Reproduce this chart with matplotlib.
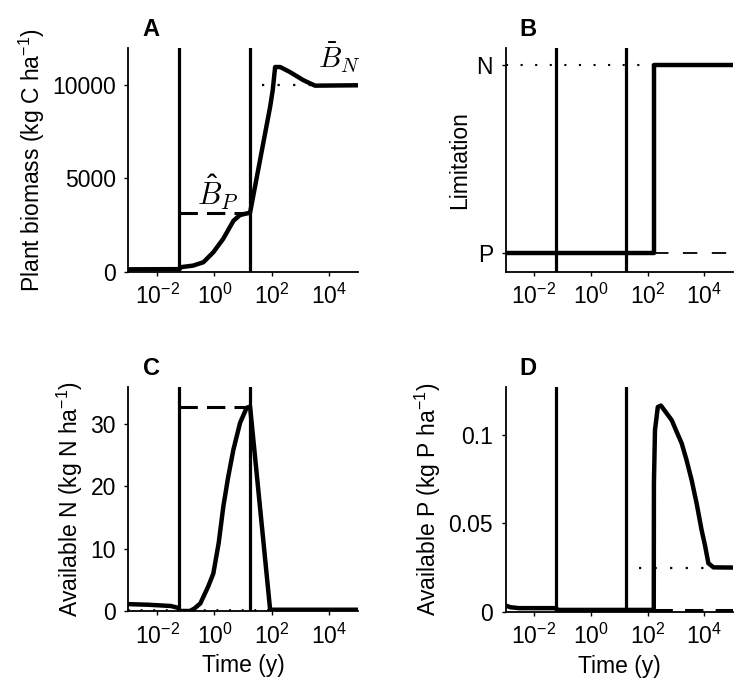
import numpy as np
import matplotlib
matplotlib.use("Agg")
import matplotlib.pyplot as plt
from matplotlib.ticker import FixedLocator, FixedFormatter, NullLocator

plt.rcParams['font.family'] = ['Liberation Sans', 'DejaVu Sans']
plt.rcParams['mathtext.fontset'] = 'custom'
plt.rcParams['mathtext.rm'] = 'Liberation Sans'
plt.rcParams['mathtext.default'] = 'regular'

# time of the two disturbance lines and the N->P switch (y)
t_marks = [0.06, 17.4]
t_switch = 165

# panel A: plant biomass
tA = [1e-3, 0.06, 0.063, 0.18, 0.41, 0.91, 2.0, 4.6, 7.8, 17.4, 87, 107, 130, 195, 427, 1260, 3200, 1e5]
biomass = [120, 130, 230, 320, 500, 1035, 1750, 2730, 3036, 3160, 8840, 9730, 10980, 10980, 10710, 10270, 9980, 10000]
B_P = 3160
B_N = 10000

# panel B: limitation (0 = P, 1 = N)
tB = [1e-3, t_switch, t_switch, 1e5]
limit = [0, 0, 1, 1]

# panel C: available N
tC = [1e-3, 0.005, 0.03, 0.055, 0.06, 0.14, 0.2, 0.32, 0.6, 0.91, 1.4, 2.04, 3.0, 4.57, 7.8, 13.2, 17.4, 87, 1e5]
availN = [1.1, 1.0, 0.8, 0.5, 0.0, 0.0, 0.4, 1.2, 3.9, 6.0, 10.9, 16.8, 21.5, 25.9, 30.2, 32.6, 32.8, 0.2, 0.2]
N_hat = 32.8
N_bar = 0.2

# panel D: available P
tD = [1e-3, 1.5e-3, 3e-3, 0.06, 0.065, 165, 167, 182, 229, 295, 708, 1050, 1585, 2340, 3548,
      5370, 7943, 10500, 13800, 20900, 1e5]
availP = [0.0035, 0.0025, 0.002, 0.002, 0.001, 0.001, 0.0727, 0.1029, 0.116, 0.1168, 0.1085, 0.102,
          0.0954, 0.086, 0.0746, 0.061, 0.0463, 0.0375, 0.0274, 0.0251, 0.025]
P_bar = 0.025
P_hat = 0.0008

xticks = [1e-2, 1e0, 1e2, 1e4]
xticklabels = [r'$10^{-2}$', r'$10^{0}$', r'$10^{2}$', r'$10^{4}$']

fs = 16.5
fig = plt.figure(figsize=(7.38, 6.91), dpi=100)
axA = fig.add_axes([0.174, 0.607, 0.311, 0.3235])
axB = fig.add_axes([0.685, 0.607, 0.308, 0.3235])
axC = fig.add_axes([0.174, 0.1158, 0.311, 0.3246])
axD = fig.add_axes([0.685, 0.1148, 0.308, 0.3256])

for ax in [axA, axB, axC, axD]:
    ax.set_xscale('log')
    ax.set_xlim(1e-3, 1e5)
    ax.xaxis.set_major_locator(FixedLocator(xticks))
    ax.xaxis.set_major_formatter(FixedFormatter(xticklabels))
    ax.xaxis.set_minor_locator(NullLocator())
    ax.spines['top'].set_visible(False)
    ax.spines['right'].set_visible(False)
    for s in ['left', 'bottom']:
        ax.spines[s].set_linewidth(1.3)
    ax.tick_params(direction='out', length=3, width=1, labelsize=fs, pad=6)
    for t in t_marks:
        ax.axvline(t, color='black', lw=2.3, zorder=3)

# A
axA.plot(tA, biomass, color='black', lw=3.2, zorder=4)
axA.plot([t_marks[0], t_marks[1]], [B_P, B_P], color='black', lw=2.2, dashes=(6, 3))
axA.plot([45, 3200], [B_N, B_N], color='black', lw=1.6, dashes=(1, 6))
axA.set_ylim(0, 12000)
axA.set_yticks([0, 5000, 10000])
axA.set_ylabel('Plant biomass (kg C ha$^{-1}$)', fontsize=fs)
axA.text(1.25, 4250, r'$\hat{\mathit{B}}_{\mathit{P}}$', fontsize=22, math_fontfamily='cm',
         ha='center', va='center')
axA.text(22000, 11500, r'$\bar{\mathit{B}}_{\mathit{N}}$', fontsize=21, math_fontfamily='cm',
         ha='center', va='center', clip_on=False)

# B
axB.plot(tB, limit, color='black', lw=3.2, zorder=4)
axB.plot([1e-3, t_switch], [1, 1], color='black', lw=1.5, dashes=(1, 6))
axB.plot([t_switch, 1e5], [0, 0], color='black', lw=1.3, dashes=(8, 8))
axB.set_ylim(-0.1, 1.09)
axB.set_yticks([0, 1])
axB.set_yticklabels(['P', 'N'])
axB.set_ylabel('Limitation', fontsize=fs)

# C
axC.plot(tC, availN, color='black', lw=3.2, zorder=4)
axC.plot([t_marks[0], t_marks[1]], [N_hat, N_hat], color='black', lw=2.2, dashes=(6, 3))
axC.plot([1e-3, 1e5], [N_bar, N_bar], color='black', lw=1.3, dashes=(1, 6))
axC.set_ylim(0, 36)
axC.set_yticks([0, 10, 20, 30])
axC.set_ylabel('Available N (kg N ha$^{-1}$)', fontsize=fs)
axC.set_xlabel('Time (y)', fontsize=fs)

# D
axD.plot(tD, availP, color='black', lw=3.2, zorder=4)
axD.plot([48, 14000], [P_bar, P_bar], color='black', lw=1.6, dashes=(1, 6))
axD.plot([t_switch, 1e5], [P_hat, P_hat], color='black', lw=2.2, dashes=(6, 4))
axD.set_ylim(0, 0.1275)
axD.set_yticks([0, 0.05, 0.1])
axD.set_yticklabels(['0', '0.05', '0.1'])
axD.set_ylabel('Available P (kg P ha$^{-1}$)', fontsize=fs)
axD.set_xlabel('Time (y)', fontsize=fs)

# panel letters
for ax, letter in zip([axA, axB, axC, axD], 'ABCD'):
    ax.text(0.1, 1.03, letter, transform=ax.transAxes, fontsize=17, fontweight='bold', ha='center', va='bottom')

fig.savefig('out.png', dpi=100)
